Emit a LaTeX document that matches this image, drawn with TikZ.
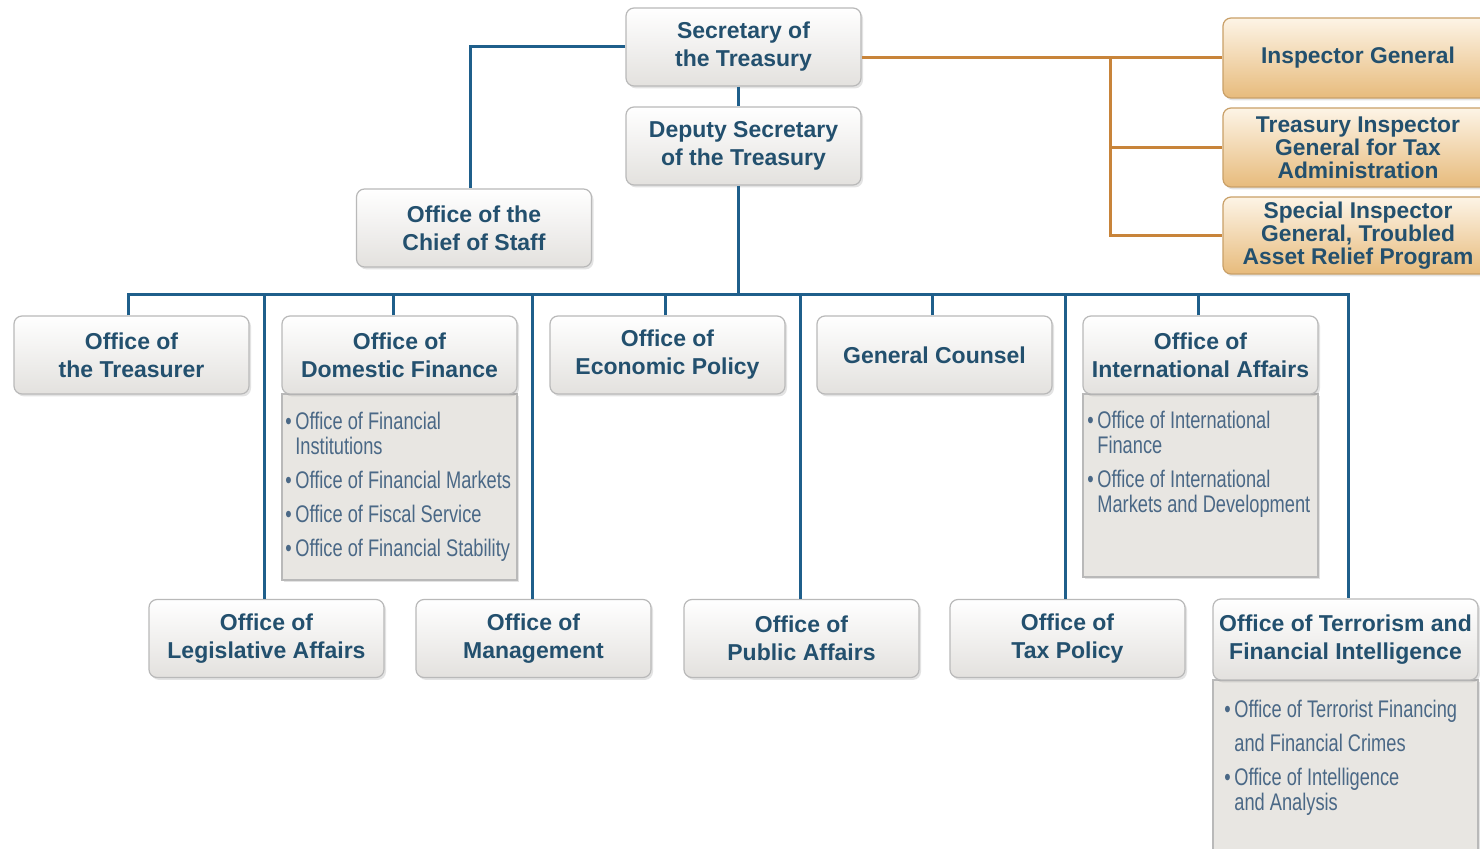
\documentclass[tikz,border=0pt]{standalone}
\usepackage{fontspec}
\setmainfont{Liberation Sans}
\newfontfamily\hdrfont{Liberation Sans}
\newfontfamily\subfnt{Liberation Sans}[FakeStretch=0.76]
\usetikzlibrary{shadows}
\definecolor{txt}{HTML}{23506E}
\definecolor{subtxt}{HTML}{4A6886}
\definecolor{boxborder}{HTML}{B9B9B9}
\definecolor{boxbot}{HTML}{E3E1DE}
\definecolor{subfill}{HTML}{E8E6E2}
\definecolor{orbot}{HTML}{E7BB7C}
\definecolor{ortop}{HTML}{FDF4E6}
\definecolor{orborder}{HTML}{C9A068}
\definecolor{blueln}{HTML}{1F5F8B}
\definecolor{orln}{HTML}{C8843A}
\newcommand\hdrf{\hdrfont\bfseries\fontsize{11.5}{14}\selectfont}
\newcommand\orf{\hdrfont\bfseries\fontsize{11.4}{11.5}\selectfont}
\newcommand\subf{\subfnt\fontsize{12}{12.5}\selectfont}
\newcommand\bitem[1]{\makebox[5pt][l]{\textbullet}#1}
\newcommand\bcont[1]{\hspace*{5pt}#1}
\tikzset{
  shd/.style={drop shadow={opacity=0.22,shadow xshift=1pt,shadow yshift=-1.2pt}},
  box/.style={shd,draw=boxborder,line width=0.6pt,rounded corners=4pt,top color=white,bottom color=boxbot,
    minimum width=117.5pt,minimum height=39pt,align=center,font=\hdrf,text=txt,inner sep=2pt},
  orbox/.style={shd,draw=orborder,line width=0.6pt,rounded corners=4pt,top color=ortop,bottom color=orbot,
    minimum width=135pt,align=center,font=\orf,text=txt,inner sep=2pt},
  subbox/.style={shd,draw=boxborder,line width=0.6pt,fill=subfill,minimum width=117.5pt,inner sep=0pt},
  sublist/.style={anchor=north west,align=left,font=\subf,text=subtxt,inner sep=0pt},
  blueline/.style={draw=blueln,line width=1.5pt},
  orline/.style={draw=orln,line width=1.5pt}
}
\begin{document}
\begin{tikzpicture}[x=0.5pt,y=-0.5pt]
\clip (0,0) rectangle (1480,849);
\fill[white] (0,0) rectangle (1480,849);

% sub boxes (drawn first, headers over them)
\node[subbox,minimum height=93pt] (domsub) at (399.5,487) {};
\node[subbox,minimum height=91.5pt] (intsub) at (1200.5,485.5) {};
\node[subbox,minimum width=132.5pt,minimum height=92pt] (tfisub) at (1345.5,772) {};

\coordinate (busL) at (128,295);
\coordinate (ob) at (1110,58);

\node[box] (sec) at (743.5,47) {Secretary of\\the Treasury};
\node[box] (dep) at (743.5,146) {Deputy Secretary\\of the Treasury};
\node[box] (cos) at (474,228) {Office of the\\Chief of Staff};

\node[orbox,minimum height=40pt] (ig) at (1358,58) {Inspector General};
\node[orbox,minimum height=39.5pt] (tigta) at (1358,147.5) {Treasury Inspector\\General for Tax\\Administration};
\node[orbox,minimum height=38.5pt] (sig) at (1358,235.5) {Special Inspector\\General, Troubled\\Asset Relief Program};

\node[box] (tre) at (131.5,355) {Office of\\the Treasurer};
\node[box] (dom) at (399.5,355) {Office of\\Domestic Finance};
\node[box] (eco) at (667.5,355) {Office of\\Economic Policy};
\node[box] (gc) at (934.5,355) {General Counsel};
\node[box] (int) at (1200.5,355) {Office of\\International Affairs};

\node[box] (leg) at (266.5,638.5) {Office of\\Legislative Affairs};
\node[box] (mgmt) at (533.5,638.5) {Office of\\Management};
\node[box] (pub) at (801.5,638.5) {Office of\\Public Affairs};
\node[box] (tax) at (1067.5,638.5) {Office of\\Tax Policy};
\node[box,minimum width=132.5pt,minimum height=40.5pt] (tfi) at (1345.5,639.5) {Office of Terrorism and\\Financial Intelligence};

% blue lines
\draw[blueline] (sec.west) -| ([xshift=-2pt]cos.north);
\draw[blueline] ([xshift=-2.75pt]sec.south) -- ([xshift=-2.75pt]dep.north);
\draw[blueline] ([xshift=-2.75pt]dep.south) -- ([xshift=-2.75pt]dep.south |- busL);
\draw[blueline] ([xshift=-1.75pt]tre.north) |- ([xshift=1.25pt]tfi.north |- busL) -- ([xshift=1.25pt]tfi.north);
\draw[blueline] ([xshift=-3pt]dom.north) -- ([xshift=-3pt]dom.north |- busL);
\draw[blueline] ([xshift=-1.25pt]eco.north) -- ([xshift=-1.25pt]eco.north |- busL);
\draw[blueline] ([xshift=-1.25pt]gc.north) -- ([xshift=-1.25pt]gc.north |- busL);
\draw[blueline] ([xshift=-1.25pt]int.north) -- ([xshift=-1.25pt]int.north |- busL);
\draw[blueline] ([xshift=-1.25pt]leg.north) -- ([xshift=-1.25pt]leg.north |- busL);
\draw[blueline] ([xshift=-0.75pt]mgmt.north) -- ([xshift=-0.75pt]mgmt.north |- busL);
\draw[blueline] ([xshift=-0.75pt]pub.north) -- ([xshift=-0.75pt]pub.north |- busL);
\draw[blueline] ([xshift=-1.25pt]tax.north) -- ([xshift=-1.25pt]tax.north |- busL);

% orange lines
\draw[orline] (sec.east |- ig.west) -- (ig.west);
\draw[orline] (ob) |- (sig.west);
\draw[orline] (ob |- tigta.west) -- (tigta.west);

% sub lists
\node[sublist] (domlist) at (285,412) {\bitem{Office of Financial}\\ \bcont{Institutions}\\[4.5pt]
  \bitem{Office of Financial Markets}\\[4.5pt] \bitem{Office of Fiscal Service}\\[4.5pt]
  \bitem{Office of Financial Stability}};
\node[sublist] (intlist) at (1087,411) {\bitem{Office of International}\\ \bcont{Finance}\\[4.5pt]
  \bitem{Office of International}\\ \bcont{Markets and Development}};
\node[sublist] (tfilist) at (1224,700) {\bitem{Office of Terrorist Financing}\\[4.5pt] \bcont{and Financial Crimes}\\[4.5pt]
  \bitem{Office of Intelligence}\\ \bcont{and Analysis}};
\end{tikzpicture}
\end{document}
